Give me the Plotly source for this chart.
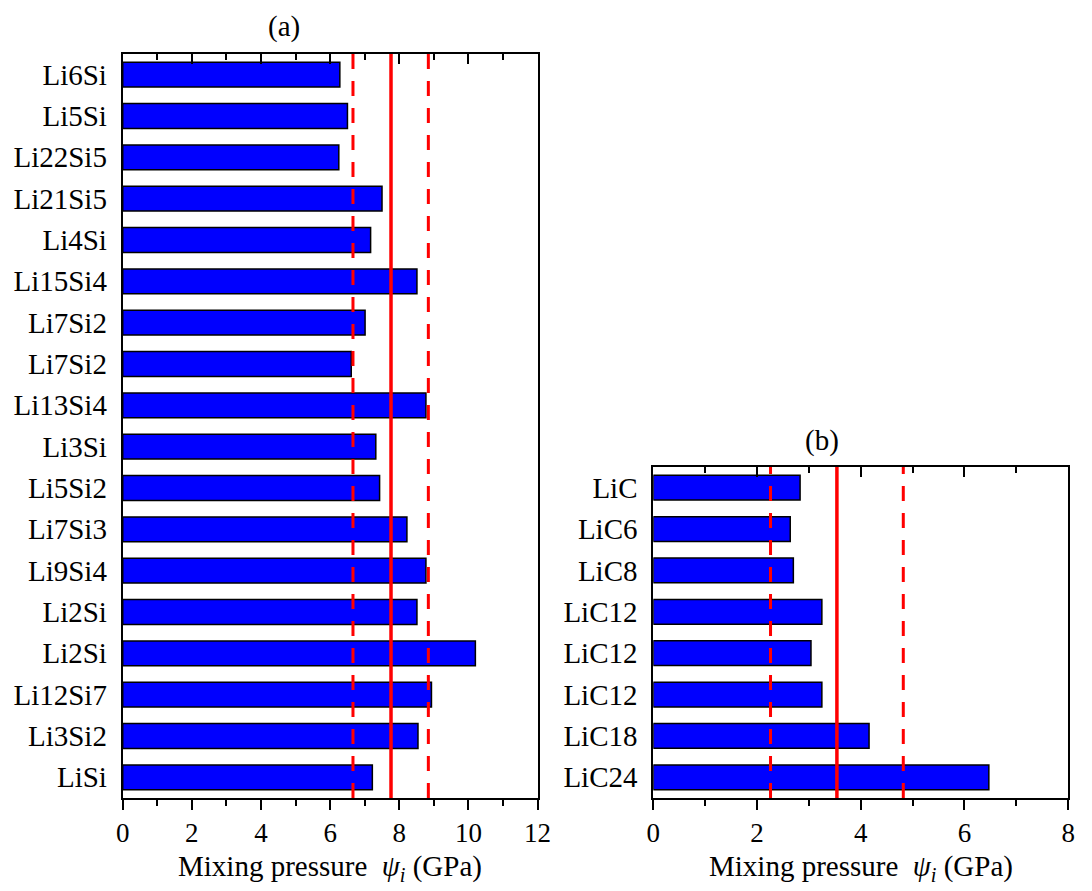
import plotly.graph_objects as go

# ---- data ----
labels_a = ["Li6Si", "Li5Si", "Li22Si5", "Li21Si5", "Li4Si", "Li15Si4", "Li7Si2", "Li7Si2",
            "Li13Si4", "Li3Si", "Li5Si2", "Li7Si3", "Li9Si4", "Li2Si", "Li2Si", "Li12Si7",
            "Li3Si2", "LiSi"]
values_a = [6.28, 6.50, 6.25, 7.50, 7.17, 8.51, 7.01, 6.61, 8.77, 7.32, 7.43, 8.22, 8.77,
            8.51, 10.20, 8.93, 8.54, 7.22]
labels_b = ["LiC", "LiC6", "LiC8", "LiC12", "LiC12", "LiC12", "LiC18", "LiC24"]
values_b = [2.83, 2.64, 2.70, 3.25, 3.04, 3.25, 4.16, 6.47]

mean_a, low_a, high_a = 7.76, 6.66, 8.84
mean_b, low_b, high_b = 3.54, 2.26, 4.82

xticks_a = [0, 2, 4, 6, 8, 10, 12]
xticks_b = [0, 2, 4, 6, 8]

W, H = 1092, 891
FONT = "Liberation Serif"
FS_LAB = 29
FS_TICK = 27

pos_a = list(range(len(labels_a)))
pos_b = list(range(len(labels_b)))

fig = go.Figure()
fig.add_trace(go.Bar(x=values_a, y=pos_a, orientation="h", width=0.6,
                     marker=dict(color="#0000FF", line=dict(color="black", width=1.5)),
                     xaxis="x", yaxis="y", showlegend=False))
fig.add_trace(go.Bar(x=values_b, y=pos_b, orientation="h", width=0.6,
                     marker=dict(color="#0000FF", line=dict(color="black", width=1.5)),
                     xaxis="x2", yaxis="y2", showlegend=False))


def px_x(v):
    return v / W


def px_y(v):
    return 1 - v / H


common_x = dict(showline=True, linecolor="black", linewidth=2, mirror=True,
                ticks="outside", ticklen=10, tickwidth=2, tickcolor="black",
                minor=dict(ticks="outside", ticklen=6, tickwidth=2, tickcolor="black", dtick=1),
                showgrid=False, zeroline=False, ticklabelstandoff=0,
                tickfont=dict(family=FONT, size=FS_TICK, color="black"))
common_y = dict(showline=True, linecolor="black", linewidth=2, mirror=True,
                ticks="", showgrid=False, zeroline=False, ticklabelstandoff=8,
                tickfont=dict(family=FONT, size=FS_LAB, color="black"))

top_x = dict(showline=False, ticks="inside", ticklen=10, tickwidth=2, tickcolor="black",
             minor=dict(ticks="inside", ticklen=6, tickwidth=2, tickcolor="black", dtick=1),
             showticklabels=False, showgrid=False, zeroline=False, side="top")

dom_xa = [px_x(118), px_x(541)]
dom_xb = [px_x(659), px_x(1082)]
dom_ya = [px_y(798), px_y(54)]
dom_yb = [px_y(798), px_y(467)]

fig.update_layout(
    width=W, height=H, margin=dict(l=0, r=0, t=0, b=0),
    plot_bgcolor="white", paper_bgcolor="white",
    font=dict(family=FONT, size=FS_LAB, color="black"),
    xaxis=dict(domain=dom_xa, range=[0, 12], tickvals=xticks_a, anchor="y", **common_x),
    yaxis=dict(domain=dom_ya, range=[len(labels_a) - 0.5, -0.5], tickvals=pos_a,
               ticktext=labels_a, anchor="x", **common_y),
    xaxis2=dict(domain=dom_xb, range=[0, 8], tickvals=xticks_b, anchor="y2", **common_x),
    yaxis2=dict(domain=dom_yb, range=[len(labels_b) - 0.5, -0.5], tickvals=pos_b,
                ticktext=labels_b, anchor="x2", **common_y),
    xaxis3=dict(overlaying="x", anchor="y", range=[0, 12], tickvals=xticks_a, **top_x),
    xaxis4=dict(overlaying="x2", anchor="y2", range=[0, 8], tickvals=xticks_b, **top_x),
)

# invisible traces so the top tick axes render
fig.add_trace(go.Scatter(x=[0], y=[0], xaxis="x3", yaxis="y", mode="markers",
                         marker=dict(opacity=0), showlegend=False, hoverinfo="skip"))
fig.add_trace(go.Scatter(x=[0], y=[0], xaxis="x4", yaxis="y2", mode="markers",
                         marker=dict(opacity=0), showlegend=False, hoverinfo="skip"))

shapes = []
for xr, yr, m, lo, hi in [("x", "y domain", mean_a, low_a, high_a),
                          ("x2", "y2 domain", mean_b, low_b, high_b)]:
    shapes.append(dict(type="line", xref=xr, yref=yr, x0=m, x1=m, y0=0, y1=1,
                       line=dict(color="#FF0000", width=3.5)))
    for v in (lo, hi):
        shapes.append(dict(type="line", xref=xr, yref=yr, x0=v, x1=v, y0=0, y1=1,
                           line=dict(color="#FF0000", width=3, dash="15px,12px")))
fig.update_layout(shapes=shapes)

xt = "Mixing pressure  <i>ψ<sub>i</sub></i> (GPa)"
ann_font = dict(family=FONT, size=FS_LAB, color="black")
annotations = [
    dict(text="(a)", x=px_x(282), y=px_y(27)),
    dict(text="(b)", x=px_x(831), y=px_y(440)),
    dict(text=xt, x=px_x(329.5), y=px_y(868)),
    dict(text=xt, x=px_x(870.5), y=px_y(868)),
]
for a in annotations:
    a.update(xref="paper", yref="paper", xanchor="center", yanchor="middle",
             showarrow=False, font=ann_font)
fig.update_layout(annotations=annotations)

fig.write_html("out.html")
